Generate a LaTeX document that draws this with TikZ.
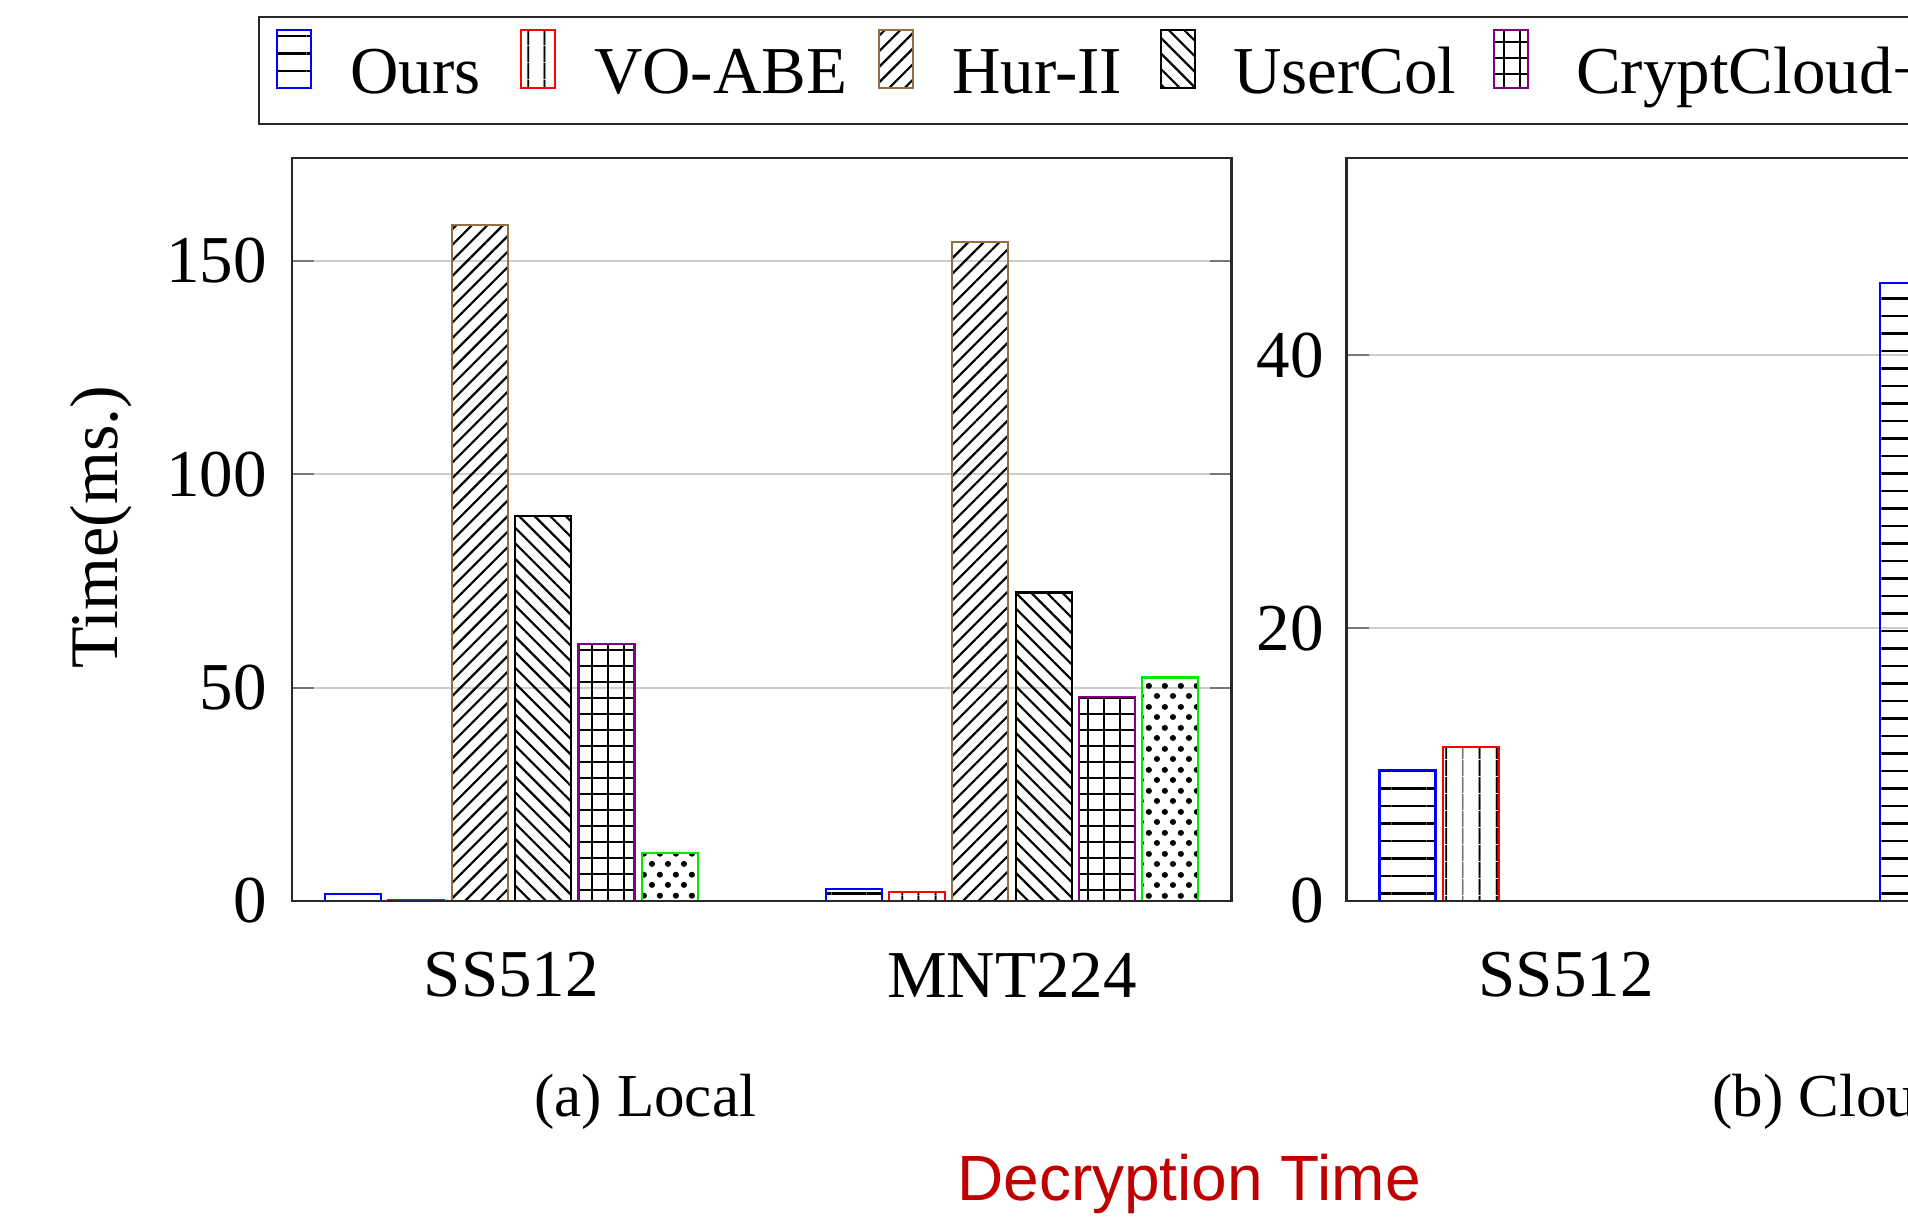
\documentclass[tikz,border=0pt]{standalone}
\usepackage{fontspec}
\setmainfont{Liberation Serif}
\newfontfamily\arialf{Liberation Sans}
\usetikzlibrary{patterns,patterns.meta}
\definecolor{bbrown}{RGB}{150,110,70}
\definecolor{ppurple}{RGB}{128,0,128}
\definecolor{ggreen}{RGB}{0,235,0}
\definecolor{dred}{RGB}{192,0,0}
\definecolor{gridgray}{RGB}{205,205,205}
\definecolor{tickgray}{RGB}{120,120,120}
\definecolor{axisblk}{RGB}{40,40,40}

\pgfdeclarepatternformonly{hexdots}{\pgfpointorigin}{\pgfpoint{15.8pt}{21pt}}{\pgfpoint{15.8pt}{21pt}}{%
  \pgfpathcircle{\pgfpoint{3.95pt}{5.25pt}}{3.1pt}%
  \pgfpathcircle{\pgfpoint{11.85pt}{15.75pt}}{3.1pt}%
  \pgfusepath{fill}}

\tikzset{
  bigtxt/.style={font=\fontsize{67}{80}\selectfont, inner sep=0pt},
  captxt/.style={font=\fontsize{61}{72}\selectfont, inner sep=0pt},
  barline/.style={line width=2.2pt},
  pours/.style={barline, draw=blue, pattern={Lines[angle=0,distance=17.5pt,line width=2.2pt]}},
  pvo/.style={barline, draw=red, pattern={Lines[angle=90,distance=17pt,line width=2.2pt]}},
  phur/.style={barline, draw=bbrown, pattern={Lines[angle=45,distance=11pt,line width=2.2pt]}},
  puser/.style={barline, draw=black, pattern={Lines[angle=-45,distance=11pt,line width=2.2pt]}},
  pcrypt/.style={barline, draw=ppurple, pattern={Hatch[angle=0,distance=16pt,line width=2.2pt]}},
  pgreen/.style={barline, draw=ggreen, pattern=hexdots},
  gridln/.style={draw=gridgray, line width=2pt},
  tickln/.style={draw=tickgray, line width=2pt},
  axisln/.style={draw=axisblk, line width=2.5pt},
}
\newcommand{\lbar}[3]{\draw[#1] (#2,901) rectangle ({#2+56},{901-#3*4.2667});}
\newcommand{\rbar}[3]{\draw[#1] (#2,901) rectangle ({#2+56},{901-#3*13.64});}

\begin{document}
\begin{tikzpicture}[x=1pt,y=-1pt]
\useasboundingbox (0,0) rectangle (1908,1226);
\clip (0,0) rectangle (1908,1226);
\fill[white] (0,0) rectangle (1908,1226);

% ---------------- legend ----------------
\draw[line width=2.5pt, draw=axisblk] (259,17) rectangle (1940,124);
\draw[pours]  (277,30) rectangle (311,88);
\draw[pvo]    (521,30) rectangle (555,88);
\draw[phur]   (879,30) rectangle (913,88);
\draw[puser]  (1161,30) rectangle (1195,88);
\draw[pcrypt] (1494,30) rectangle (1528,88);
\node[bigtxt, anchor=base west] (lgours) at (350,93) {Ours};
\node[bigtxt, anchor=base west] (lgvo) at (594,93) {VO-ABE};
\node[bigtxt, anchor=base west] (lghur) at (952,93) {Hur-II};
\node[bigtxt, anchor=base west] (lguser) at (1233,93) {UserCol};
\node[bigtxt, anchor=base west] (lgcrypt) at (1576,93) {CryptCloud+};

% ---------------- left plot ----------------
\foreach \v in {50,100,150}{
  \draw[gridln] (292,{901-\v*4.2667}) -- (1231.5,{901-\v*4.2667});
  \draw[tickln] (292,{901-\v*4.2667}) -- (314,{901-\v*4.2667});
  \draw[tickln] (1209.5,{901-\v*4.2667}) -- (1231.5,{901-\v*4.2667});
}
% SS512
\lbar{pours}{325}{1.7}
\lbar{pvo}{388.35}{0.3}
\lbar{phur}{451.7}{158.4}
\lbar{puser}{515.05}{90.2}
\lbar{pcrypt}{578.4}{60.2}
\lbar{pgreen}{641.75}{11.3}
% MNT224
\lbar{pours}{825.6}{2.9}
\lbar{pvo}{888.95}{2.1}
\lbar{phur}{952.3}{154.4}
\lbar{puser}{1015.65}{72.3}
\lbar{pcrypt}{1079}{47.9}
\lbar{pgreen}{1142.35}{52.4}
\draw[axisln] (292,158) rectangle (1231.5,901);

\node[bigtxt, anchor=east] (yl0) at (267,901) {0};
\node[bigtxt, anchor=east] (yl50) at (267,687.7) {50};
\node[bigtxt, anchor=east] (yl100) at (267,474.3) {100};
\node[bigtxt, anchor=east] (yl150) at (267,261) {150};
\node[font=\fontsize{68}{80}\selectfont, inner sep=0pt, rotate=90, anchor=base] (ylab) at (117,527) {Time(ms.)};
\node[bigtxt] (xss) at (511.5,975) {SS512};
\node[bigtxt] (xmnt) at (1012,975) {MNT224};
\node[captxt, anchor=base west] (capa) at (534,1116) {(a) Local};

% ---------------- right plot ----------------
\foreach \v in {20,40}{
  \draw[gridln] (1346.5,{901-\v*13.64}) -- (1920,{901-\v*13.64});
  \draw[tickln] (1346.5,{901-\v*13.64}) -- (1368.5,{901-\v*13.64});
}
\rbar{pours}{1379.5}{9.6}
\rbar{pvo}{1442.85}{11.3}
\rbar{phur}{1506.2}{0}
\rbar{puser}{1569.55}{0}
\rbar{pcrypt}{1632.9}{0}
\rbar{pgreen}{1696.25}{0}
\rbar{pours}{1880.1}{45.3}
\draw[axisln] (1940,158) -- (1346.5,158) -- (1346.5,901) -- (1940,901);

\node[bigtxt, anchor=east] (yr0) at (1324,901) {0};
\node[bigtxt, anchor=east] (yr20) at (1324,628.2) {20};
\node[bigtxt, anchor=east] (yr40) at (1324,355.4) {40};
\node[bigtxt] (xss2) at (1566,975) {SS512};
\node[captxt, anchor=base west] (capb) at (1712,1116) {(b) Cloud};

% ---------------- title ----------------
\node[font=\arialf\fontsize{64}{76}\selectfont, text=dred, inner sep=0pt, anchor=base west] (title) at (957,1200) {Decryption Time};
\end{tikzpicture}
\end{document}
